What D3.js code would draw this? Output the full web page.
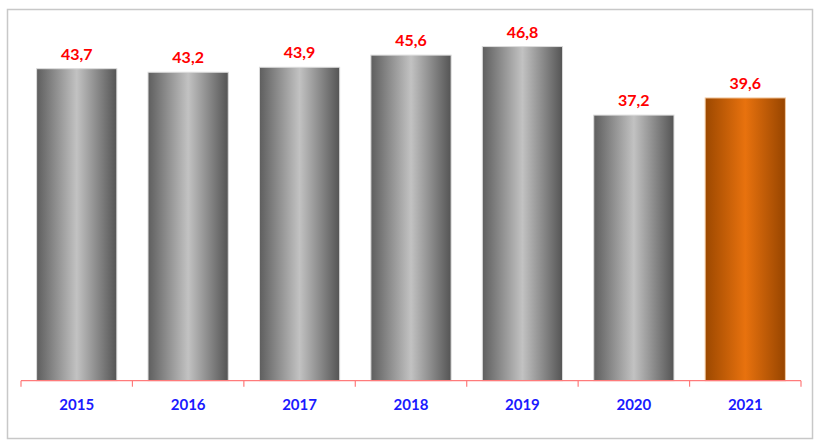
<!DOCTYPE html>
<html><head><meta charset="utf-8">
<script src="https://cdn.jsdelivr.net/npm/d3@7"></script>
<style>html,body{margin:0;padding:0;background:#fff;}svg{display:block;}</style>
</head><body>
<svg id="chart" width="821" height="443"></svg>
<script>
const categories = ["2015","2016","2017","2018","2019","2020","2021"];
const values = [43.7, 43.2, 43.9, 45.6, 46.8, 37.2, 39.6];
const labels = ["43,7","43,2","43,9","45,6","46,8","37,2","39,6"];
const highlight = ["2021"];

const svg = d3.select("#chart");
// frame
svg.append("rect").attr("x",7.5).attr("y",9.5).attr("width",805).attr("height",429)
  .attr("fill","#fff").attr("stroke","#c8c8c8").attr("stroke-width",1.5);

const defs = svg.append("defs");
function grad(id, edgeL, mid, edgeR){
  const g = defs.append("linearGradient").attr("id",id).attr("x1","0").attr("x2","1").attr("y1","0").attr("y2","0");
  g.append("stop").attr("offset","0%").attr("stop-color",edgeL);
  g.append("stop").attr("offset","50%").attr("stop-color",mid);
  g.append("stop").attr("offset","100%").attr("stop-color",edgeR);
}
grad("gGray","#5e5e5e","#c2c2c2","#545454");
grad("gOrange","#9c4800","#e8720e","#974500");

const x = d3.scaleBand().domain(categories).range([21, 801]).paddingInner(0.28).paddingOuter(0.14);
const y = d3.scaleLinear().domain([0, 50]).range([380.7, 23.7]);

svg.selectAll("rect.bar").data(categories).join("rect").attr("class","bar")
  .attr("x", d => x(d)).attr("width", x.bandwidth())
  .attr("y", (d,i) => y(values[i])).attr("height", (d,i) => y(0) - y(values[i]))
  .attr("fill", d => highlight.includes(d) ? "url(#gOrange)" : "url(#gGray)")
  .attr("stroke", d => highlight.includes(d) ? "#f2c9a0" : "#dcdcdc").attr("stroke-width",1);

svg.selectAll("text.val").data(categories).join("text").attr("class","val")
  .attr("x", d => x(d) + x.bandwidth()/2).attr("y", (d,i) => y(values[i]) - 9)
  .attr("text-anchor","middle").attr("font-family","Lato, 'Open Sans', sans-serif")
  .attr("font-weight","bold").attr("font-size","16px").attr("fill","#ff0000")
  .text((d,i) => labels[i]);

// axis
const xAxis = d3.axisBottom(d3.scaleBand().domain(categories).range([21,801])).tickSize(0).tickFormat("");
const ax = svg.append("g").attr("transform",`translate(0,${y(0)})`);
ax.append("line").attr("x1",21).attr("x2",801).attr("y1",0).attr("y2",0).attr("stroke","#ff7b7b").attr("stroke-width",1.2);
const bounds = d3.range(categories.length+1).map(i => 21 + i*(780/categories.length));
ax.selectAll("line.tk").data(bounds).join("line").attr("class","tk")
  .attr("x1",d=>d).attr("x2",d=>d).attr("y1",0).attr("y2",6).attr("stroke","#ff7b7b").attr("stroke-width",1.2);

svg.selectAll("text.cat").data(categories).join("text").attr("class","cat")
  .attr("x", d => x(d) + x.bandwidth()/2).attr("y", 409.5)
  .attr("text-anchor","middle").attr("font-family","Lato, 'Open Sans', sans-serif")
  .attr("font-weight","bold").attr("font-size","15px").attr("fill","#1a1aff")
  .text(d => d);
</script>
</body></html>
